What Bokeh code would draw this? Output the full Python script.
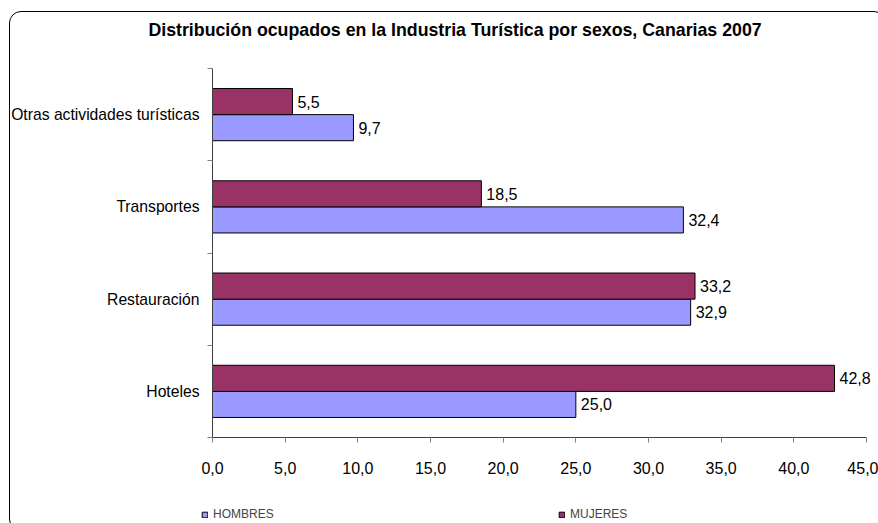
from bokeh.plotting import figure
from bokeh.models import (Range1d, FixedTicker, CustomJSTickFormatter, Legend, LegendItem,
                          ColumnDataSource, Label)
from bokeh.core.properties import value
from bokeh.embed import file_html
from bokeh.resources import INLINE

# ---- data ----
title_text = "Distribución  ocupados en la Industria Turística por sexos, Canarias 2007"
categories = ["Hoteles", "Restauración", "Transportes", "Otras actividades turísticas"]
hombres = [25.0, 32.9, 32.4, 9.7]
mujeres = [42.8, 33.2, 18.5, 5.5]
x_ticks = [0, 5, 10, 15, 20, 25, 30, 35, 40, 45]
series_names = ["HOMBRES", "MUJERES"]
series_colors = ["#9999FF", "#993366"]

FONT = "Liberation Sans"

# ---- layout (pixels) ----
W, H = 878, 523
TOP = 68                 # where value 4 of the category axis sits
X0_PX, X45_PX = 212, 866 # where 0 and 45 sit
Y0_PX = 437              # where value 0 of the category axis sits
ux = (X45_PX - X0_PX) / 45.0
uy = (Y0_PX - TOP) / len(categories)

p = figure(width=W, height=H, output_backend="svg", toolbar_location=None,
           x_range=Range1d(-X0_PX / ux, (W - X0_PX) / ux),
           y_range=Range1d(-(H - Y0_PX) / uy, len(categories) + TOP / uy),
           min_border_left=0, min_border_right=0, min_border_top=0, min_border_bottom=0)
p.outline_line_color = None
p.xgrid.visible = False
p.ygrid.visible = False
p.background_fill_color = "white"
p.border_fill_color = "white"
p.stylesheets = [""":host { position: relative; overflow: hidden; }
:host::after { content: ""; position: absolute; left: 9px; top: 11px; right: -8px; bottom: -8px;
  border: 1px solid black; border-radius: 12px; pointer-events: none; }"""]

# title
p.add_layout(Label(x=457, y=H - 29, x_units="screen", y_units="screen", text=title_text,
                   text_align="center", text_baseline="middle", text_font=FONT,
                   text_font_size="17.75px", text_font_style="bold", text_color="black"))

centers = [i + 0.5 for i in range(len(categories))]
bh = 0.283
src_h = ColumnDataSource(dict(y=[c - bh / 2 for c in centers], x=hombres,
                              lbl=[f"{v:.1f}".replace(".", ",") for v in hombres]))
src_m = ColumnDataSource(dict(y=[c + bh / 2 for c in centers], x=mujeres,
                              lbl=[f"{v:.1f}".replace(".", ",") for v in mujeres]))

r_h = p.hbar(y="y", right="x", left=0, height=bh, source=src_h,
             fill_color=series_colors[0], line_color="black", line_width=1)
r_m = p.hbar(y="y", right="x", left=0, height=bh, source=src_m,
             fill_color=series_colors[1], line_color="black", line_width=1)

for src in (src_h, src_m):
    p.text(x="x", y="y", text="lbl", source=src, x_offset=5, text_baseline="middle",
           text_align="left", text_font=value(FONT), text_font_size="16px", text_color="black")

# x axis, pinned at value 0 of the category axis
xa = p.xaxis[0]
xa.fixed_location = 0
xa.bounds = (0, 45)
xa.ticker = FixedTicker(ticks=x_ticks, minor_ticks=[])
xa.formatter = CustomJSTickFormatter(code="return tick.toFixed(1).replace('.', ',');")
xa.axis_line_color = "#404040"
xa.major_tick_line_color = "#808080"
xa.major_tick_in = 0
xa.major_tick_out = 5
xa.major_label_text_font = FONT
xa.major_label_text_font_size = "16px"
xa.major_label_text_color = "black"
xa.major_label_standoff = 19

# category axis, pinned at x = 0
ya = p.yaxis[0]
ya.fixed_location = 0
ya.bounds = (0, len(categories))
ya.ticker = FixedTicker(ticks=centers, minor_ticks=list(range(len(categories) + 1)))
ya.major_label_overrides = {c: name for c, name in zip(centers, categories)}
ya.axis_line_color = "#404040"
ya.major_tick_in = 0
ya.major_tick_out = 0
ya.minor_tick_in = 0
ya.minor_tick_out = 5
ya.minor_tick_line_color = "#808080"
ya.major_label_text_font = FONT
ya.major_label_text_font_size = "15.7px"
ya.major_label_text_color = "black"
ya.major_label_standoff = 8

# legends, bottom of the picture
for rend, name, lx in ((r_h, series_names[0], 201), (r_m, series_names[1], 558)):
    lg = Legend(items=[LegendItem(label=name, renderers=[rend])], location=(lx, 2),
                orientation="horizontal", padding=0, margin=0, spacing=0,
                glyph_width=7, glyph_height=7, label_height=12, label_standoff=5,
                label_text_font=FONT, label_text_font_size="12px",
                label_text_baseline="middle",
                background_fill_alpha=0, border_line_alpha=0)
    p.add_layout(lg, "center")

open("out.html", "w").write(file_html(p, INLINE))
